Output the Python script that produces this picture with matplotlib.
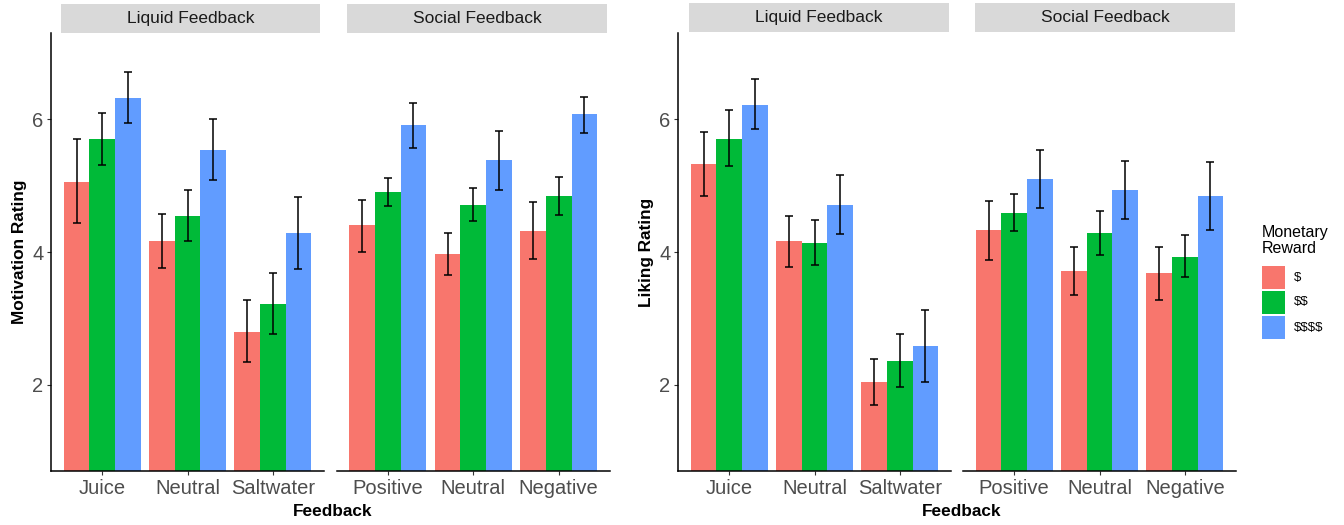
import matplotlib
matplotlib.use("Agg")
import matplotlib.pyplot as plt
from matplotlib.patches import Rectangle
import numpy as np

plt.rcParams['font.family'] = ['Liberation Sans', 'DejaVu Sans']
plt.rcParams['text.parse_math'] = False

# ---------------- data ----------------
liquid_cats = ["Juice", "Neutral", "Saltwater"]
social_cats = ["Positive", "Neutral", "Negative"]
rewards = ["$", "$$", "$$$$"]
reward_colors = ["#F8766D", "#00BA38", "#619CFF"]
strip_labels = ["Liquid Feedback", "Social Feedback"]
legend_title = "Monetary\nReward"

# rows = reward level ($, $$, $$$$), columns = feedback category
mot_liquid_mean = [[5.06, 4.17, 2.80], [5.71, 4.54, 3.22], [6.32, 5.54, 4.29]]
mot_liquid_lo   = [[4.44, 3.76, 2.34], [5.31, 4.17, 2.77], [5.94, 5.09, 3.75]]
mot_liquid_hi   = [[5.70, 4.58, 3.28], [6.10, 4.93, 3.69], [6.71, 6.00, 4.83]]

mot_social_mean = [[4.40, 3.97, 4.32], [4.91, 4.71, 4.85], [5.91, 5.38, 6.08]]
mot_social_lo   = [[4.00, 3.65, 3.90], [4.70, 4.46, 4.56], [5.56, 4.94, 5.79]]
mot_social_hi   = [[4.78, 4.29, 4.75], [5.11, 4.97, 5.13], [6.25, 5.83, 6.34]]

lik_liquid_mean = [[5.32, 4.17, 2.04], [5.71, 4.14, 2.36], [6.22, 4.71, 2.58]]
lik_liquid_lo   = [[4.84, 3.78, 1.70], [5.29, 3.80, 1.97], [5.86, 4.27, 2.04]]
lik_liquid_hi   = [[5.81, 4.55, 2.39], [6.14, 4.48, 2.77], [6.60, 5.16, 3.13]]

lik_social_mean = [[4.33, 3.71, 3.68], [4.59, 4.29, 3.93], [5.10, 4.94, 4.84]]
lik_social_lo   = [[3.88, 3.35, 3.27], [4.31, 3.96, 3.63], [4.66, 4.50, 4.33]]
lik_social_hi   = [[4.77, 4.08, 4.08], [4.87, 4.62, 4.25], [5.54, 5.37, 5.35]]

y_ticks = [2, 4, 6]
y_limits = (1, 7)

# ---------------- layout ----------------
W, H = 1344, 525
fig = plt.figure(figsize=(W / 100, H / 100), dpi=100)


def rect(x0, x1, y0, y1):
    return [x0 / W, 1 - y1 / H, (x1 - x0) / W, (y1 - y0) / H]


TICK_COLOR = "#4D4D4D"


def draw_panel(pos, cats, mean, lo, hi, show_y, strip_pos, strip_text):
    ax = fig.add_axes(rect(*pos))
    n = len(cats)
    x = np.arange(1, n + 1)
    bw = 0.3
    for i, (lab, col) in enumerate(zip(rewards, reward_colors)):
        xs = x + (i - 1) * bw
        m = np.array(mean[i])
        yerr = np.vstack([m - np.array(lo[i]), np.array(hi[i]) - m])
        ax.bar(xs, m, width=bw, color=col, linewidth=0, zorder=2, label=lab)
        ax.errorbar(xs, m, yerr=yerr, fmt="none", ecolor="black",
                    elinewidth=1.1, capsize=2.6, capthick=1.1, zorder=3)
    span = y_limits[1] - y_limits[0]
    ax.set_ylim(y_limits[0] - 0.05 * span, y_limits[1] + 0.05 * span)
    ax.set_xlim(0.4, n + 0.6)
    ax.set_xticks(x)
    ax.set_xticklabels(cats)
    for s in ["top", "right"]:
        ax.spines[s].set_visible(False)
    ax.spines["bottom"].set_linewidth(1.1)
    ax.spines["left"].set_linewidth(1.1)
    ax.tick_params(axis="x", length=3, width=0.8, color="#333333",
                   labelsize=14.5, labelcolor=TICK_COLOR, pad=2.5)
    if show_y:
        ax.set_yticks(y_ticks)
        ax.tick_params(axis="y", length=3, width=0.8, color="#333333",
                       labelsize=14.5, labelcolor=TICK_COLOR, pad=2.5)
    else:
        ax.spines["left"].set_visible(False)
        ax.set_yticks([])
    ax.set_facecolor("white")
    # facet strip
    sx0, sx1, sy0, sy1 = strip_pos
    fig.patches.append(Rectangle((sx0 / W, 1 - sy1 / H), (sx1 - sx0) / W,
                                 (sy1 - sy0) / H, transform=fig.transFigure,
                                 facecolor="#D9D9D9", edgecolor="none"))
    fig.text((sx0 + sx1) / 2 / W, 1 - (sy0 + sy1) / 2 / H, strip_text,
             ha="center", va="center", fontsize=12.5, color="#1A1A1A")
    return ax


# left figure: motivation
draw_panel((51, 324, 33, 471), liquid_cats, mot_liquid_mean, mot_liquid_lo,
           mot_liquid_hi, True, (61, 320, 4, 33), strip_labels[0])
draw_panel((336.5, 610, 33, 471), social_cats, mot_social_mean, mot_social_lo,
           mot_social_hi, False, (347, 607, 4, 33), strip_labels[1])
# right figure: liking
draw_panel((678, 951, 33, 471), liquid_cats, lik_liquid_mean, lik_liquid_lo,
           lik_liquid_hi, True, (689, 949, 3, 32), strip_labels[0])
draw_panel((963, 1236, 33, 471), social_cats, lik_social_mean, lik_social_lo,
           lik_social_hi, False, (975, 1235, 3, 32), strip_labels[1])

# axis titles
fig.text(19.5 / W, 1 - 252 / H, "Motivation Rating", rotation=90,
         ha="center", va="center", fontsize=12.4, fontweight="bold")
fig.text(647 / W, 1 - 252 / H, "Liking Rating", rotation=90,
         ha="center", va="center", fontsize=12.4, fontweight="bold")
fig.text(333 / W, 1 - 511 / H, "Feedback", ha="center", va="center",
         fontsize=12.4, fontweight="bold")
fig.text(962 / W, 1 - 511 / H, "Feedback", ha="center", va="center",
         fontsize=12.4, fontweight="bold")

# legend (ggplot-style, drawn in figure coordinates)
lx, ly_title = 1261.5, 225
fig.text(lx / W, 1 - ly_title / H, legend_title, ha="left", va="top",
         fontsize=11.5, linespacing=1.05, color="black")
key_w, key_h, key_pitch, key_top = 23.5, 23, 25, 266
for i, (lab, col) in enumerate(zip(rewards, reward_colors)):
    top = key_top + i * key_pitch
    fig.patches.append(Rectangle((lx / W, 1 - (top + key_h) / H), key_w / W,
                                 key_h / H, transform=fig.transFigure,
                                 facecolor=col, edgecolor="none"))
    fig.text(1294 / W, 1 - (top + key_h / 2) / H, lab, ha="left",
             va="center", fontsize=9.5, color="black")

fig.savefig("out.png", dpi=100, facecolor="white")
